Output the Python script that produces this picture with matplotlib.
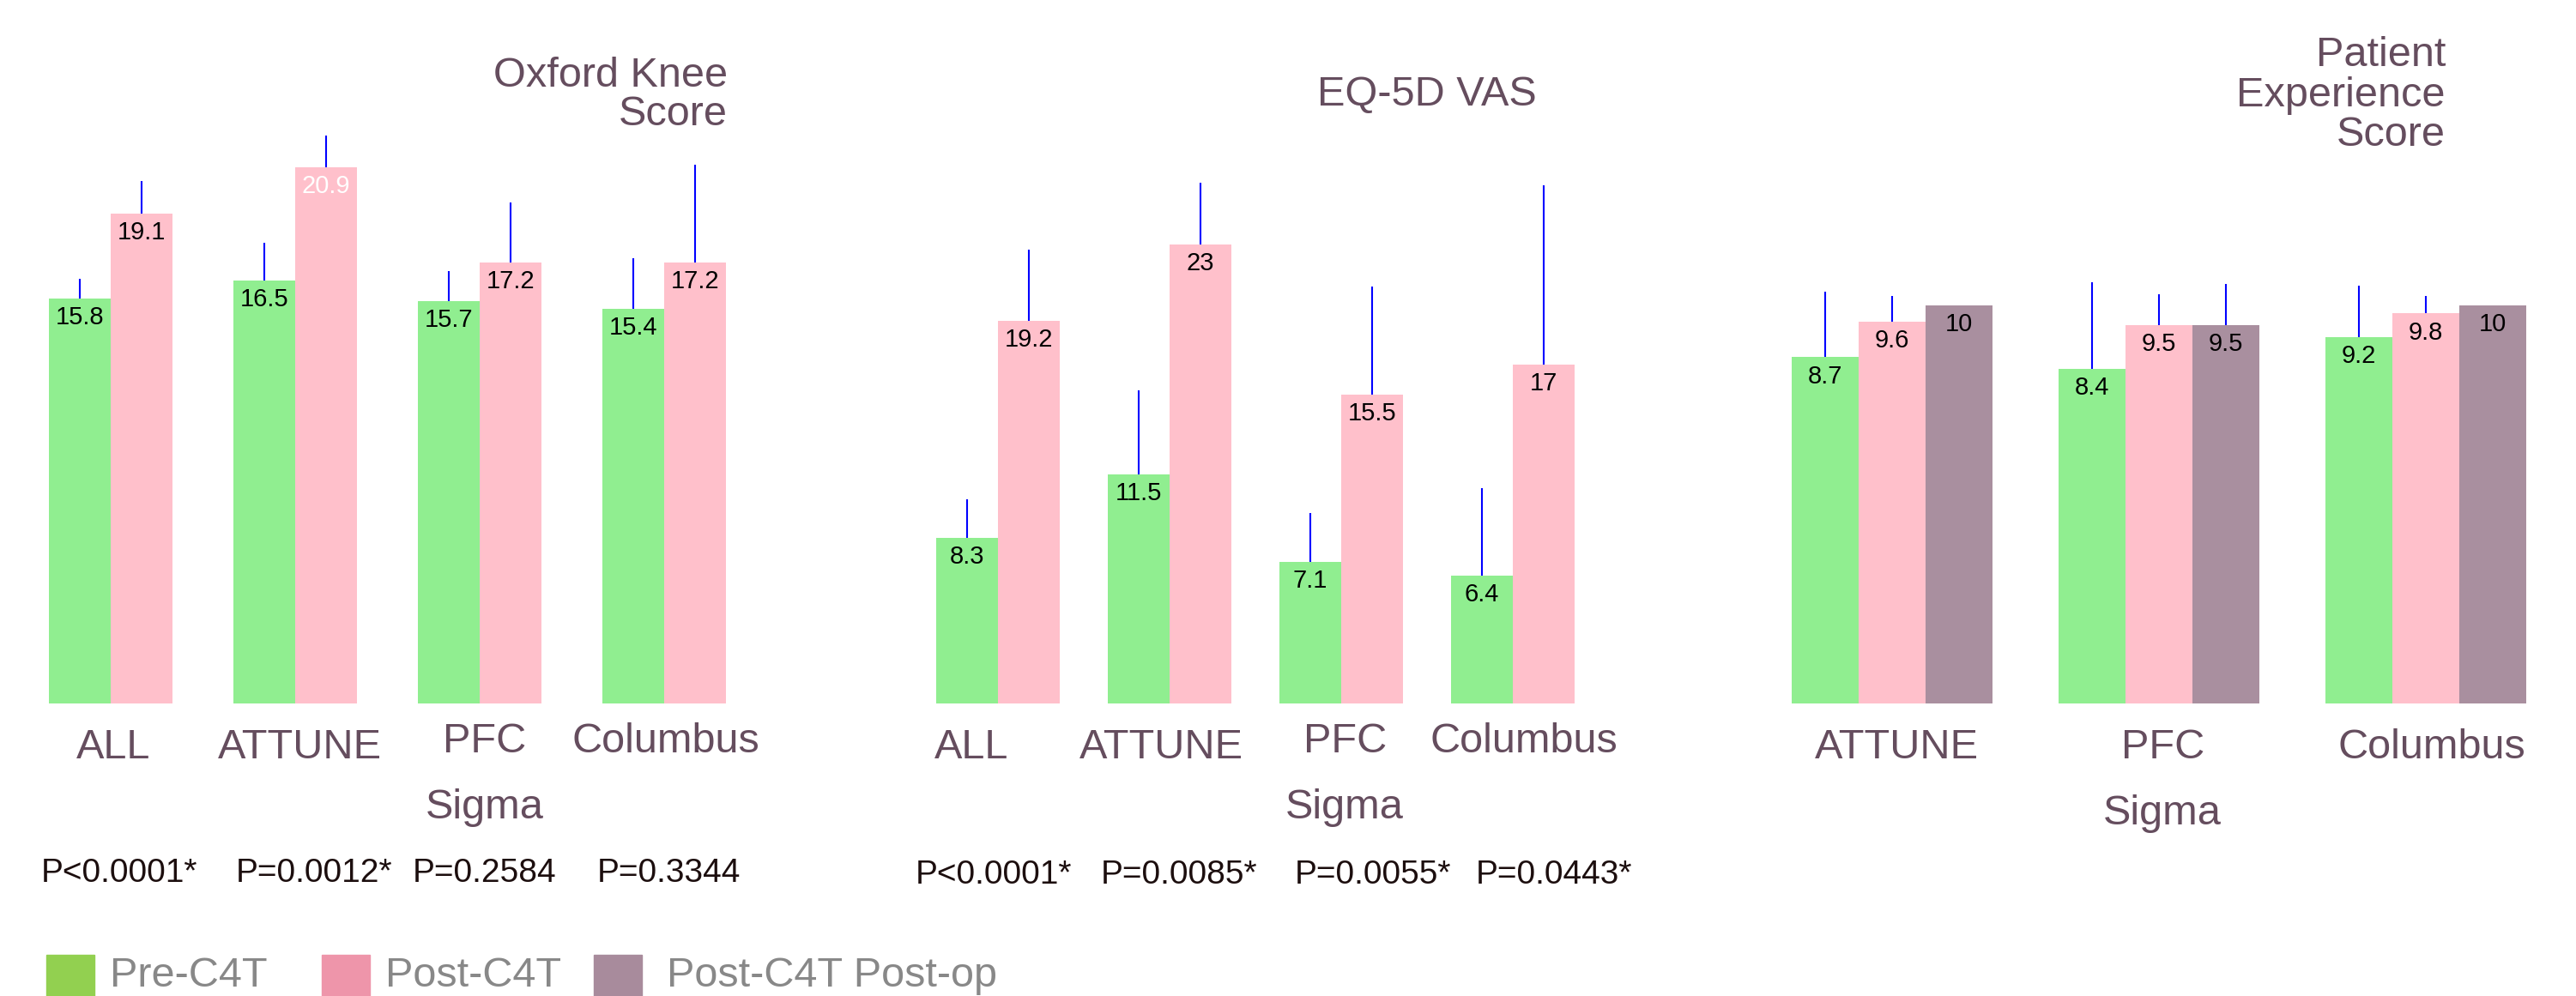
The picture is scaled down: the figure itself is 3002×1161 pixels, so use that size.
import matplotlib
matplotlib.use("Agg")
import matplotlib.pyplot as plt
from matplotlib.patches import Rectangle

plt.rcParams['font.family'] = ['Liberation Sans', 'DejaVu Sans']

# --- data ---
OKS_GROUPS = ["ALL", "ATTUNE", "PFC\nSigma", "Columbus"]
OKS_PRE = [15.8, 16.5, 15.7, 15.4]
OKS_POST = [19.1, 20.9, 17.2, 17.2]
OKS_PRE_ERR = [0.74, 1.46, 1.16, 1.96]
OKS_POST_ERR = [1.26, 1.24, 2.33, 3.79]
OKS_P = ["P<0.0001*", "P=0.0012*", "P=0.2584", "P=0.3344"]

EQ_GROUPS = ["ALL", "ATTUNE", "PFC\nSigma", "Columbus"]
EQ_PRE = [8.3, 11.5, 7.1, 6.4]
EQ_POST = [19.2, 23, 15.5, 17]
EQ_PRE_ERR = [1.94, 4.2, 2.45, 4.4]
EQ_POST_ERR = [3.57, 3.12, 5.4, 9.0]
EQ_P = ["P<0.0001*", "P=0.0085*", "P=0.0055*", "P=0.0443*"]

PES_GROUPS = ["ATTUNE", "PFC\nSigma", "Columbus"]
PES_PRE = [8.7, 8.4, 9.2]
PES_POST = [9.6, 9.5, 9.8]
PES_POSTOP = [10, 9.5, 10]
PES_PRE_ERR = [1.65, 2.18, 1.3]
PES_POST_ERR = [0.64, 0.77, 0.43]
PES_POSTOP_ERR = [0, 1.04, 0]

LEGEND = ["Pre-C4T", "Post-C4T", "Post-C4T Post-op"]

GREEN = "#90EE90"
PINK = "#FFC0CB"
MAUVE = "#A98F9F"
LEG_COLORS = ["#92D050", "#EE95AA", "#A88B9C"]
TXT = "#654D5E"

W, H = 3002, 1161
fig = plt.figure(figsize=(W / 100, H / 100), dpi=100)


def fx(px):
    return px / W


def fy(py):
    return 1 - py / H


def make_ax(x0, x1, xlim, ytop):
    # baseline at pixel row 820, top at 40
    ax = fig.add_axes([fx(x0), fy(820), fx(x1 - x0), 780 / H])
    ax.set_xlim(*xlim)
    ax.set_ylim(0, ytop)
    ax.axis("off")
    return ax


def draw(ax, series, errs, colors, width, label_colors=None):
    n = len(series)
    for i, (vals, err, col) in enumerate(zip(series, errs, colors)):
        off = (i - (n - 1) / 2) * width
        xs = [k + off for k in range(len(vals))]
        ax.bar(xs, vals, width=width, color=col, zorder=2)
        for k, (x, v, e) in enumerate(zip(xs, vals, err)):
            if e > 0:
                ax.vlines(x, v, v + e, color="blue", lw=1.5, zorder=3)
            c = "black"
            if label_colors and label_colors[i] and label_colors[i][k]:
                c = label_colors[i][k]
            ax.annotate(f"{v:g}", (x, v), xytext=(0, -16), textcoords="offset points",
                        ha="center", va="center", fontsize=21, color=c, zorder=4)


def cats(ax, groups, nudges):
    # nudges: (dx, dy) in points for each label
    for k, (g, (dx, dy)) in enumerate(zip(groups, nudges)):
        ax.annotate(g, (k, 0), xytext=(dx, dy), textcoords="offset points",
                    ha="center", va="top", fontsize=35, color=TXT, linespacing=1.9,
                    annotation_clip=False)


def pvals(ax, texts, nudges, ypx):
    for k, (p, dx) in enumerate(zip(texts, nudges)):
        ax.annotate(p, (k, 0), xytext=(dx * 0.72, -(ypx - 820) * 0.72),
                    textcoords="offset points", ha="center", va="center",
                    fontsize=28, color="#1c0e0e", annotation_clip=False)


# Oxford Knee Score
ax1 = make_ax(0, 1000, (-129 / 215, 871 / 215), 780 / 29.9)
draw(ax1, [OKS_PRE, OKS_POST], [OKS_PRE_ERR, OKS_POST_ERR], [GREEN, PINK], 0.335,
     label_colors=[None, [None, "white", None, None]])
cats(ax1, OKS_GROUPS, [(2, -21), (4, -21), (4, -16), (1, -16)])
fig.text(fx(848), fy(111), "Oxford Knee\nScore", ha="right", va="center",
         fontsize=35, color=TXT, linespacing=1.02)
pvals(ax1, OKS_P, [10, 22, 6, 5], 1018)

# EQ-5D VAS
ax2 = make_ax(1000, 2000, (-163 / 200, 837 / 200), 780 / 23.25)
draw(ax2, [EQ_PRE, EQ_POST], [EQ_PRE_ERR, EQ_POST_ERR], [GREEN, PINK], 0.36)
cats(ax2, EQ_GROUPS, [(-22, -21), (-7, -21), (3, -16), (9, -16)])
fig.text(fx(1791), fy(110), "EQ-5D VAS", ha="right", va="center", fontsize=35, color=TXT)
pvals(ax2, EQ_P, [-5, 11, 37, 48], 1020)

# Patient Experience Score
ax3 = make_ax(2000, 3002, (-205 / 311, 797 / 311), 780 / 46.4)
draw(ax3, [PES_PRE, PES_POST, PES_POSTOP], [PES_PRE_ERR, PES_POST_ERR, PES_POSTOP_ERR],
     [GREEN, PINK, MAUVE], 0.25)
cats(ax3, PES_GROUPS, [(4, -21), (3, -21), (5, -21)])
fig.text(fx(2850), fy(111), "Patient\nExperience\nScore", ha="right", va="center",
         fontsize=35, color=TXT, linespacing=1.05)

# legend along the bottom edge
sw_x = [54, 375, 692]
txt_x = [128, 449, 777]
for sx, tx, lab, col in zip(sw_x, txt_x, LEGEND, LEG_COLORS):
    fig.patches.append(Rectangle((fx(sx), fy(1175)), fx(56), 62 / H,
                                 transform=fig.transFigure, color=col))
    fig.text(fx(tx), fy(1150), lab, ha="left", va="baseline", fontsize=35, color="#888888")

fig.savefig("out.png", dpi=100)
